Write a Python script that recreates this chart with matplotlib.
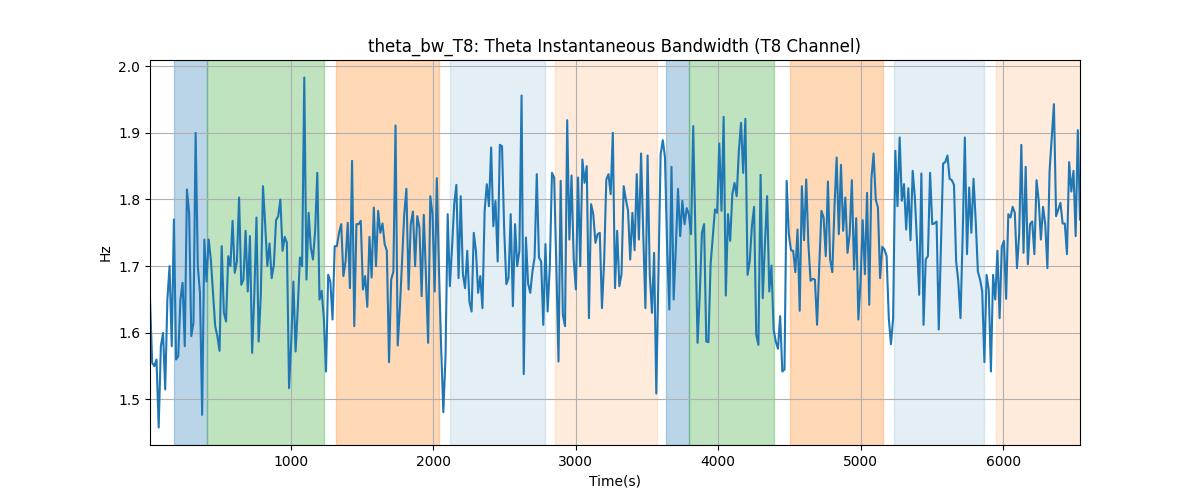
import numpy as np
import matplotlib
matplotlib.use("Agg")
import matplotlib.pyplot as plt

# Theta bandwidth values, in time order
bw = [
    1.65, 1.555, 1.55, 1.56, 1.458, 1.58, 1.60, 1.515, 1.65, 1.70, 1.58, 1.77,
    1.56, 1.565, 1.65, 1.675, 1.58, 1.815, 1.78, 1.595, 1.615, 1.90, 1.70, 1.66,
    1.477, 1.74, 1.677, 1.74, 1.71, 1.66, 1.61, 1.595, 1.573, 1.73, 1.63,
    1.617, 1.715, 1.70, 1.768, 1.69, 1.707, 1.803, 1.672, 1.68, 1.753, 1.662, 1.745,
    1.57, 1.657, 1.773, 1.587, 1.657, 1.82, 1.763, 1.70, 1.734, 1.682, 1.702, 1.769,
    1.775, 1.80, 1.723, 1.744, 1.735, 1.517, 1.587, 1.677, 1.572, 1.637, 1.713, 1.70, 1.983,
    1.68, 1.78, 1.728, 1.71, 1.753, 1.84, 1.65, 1.663, 1.622, 1.542, 1.687, 1.677,
    1.62, 1.73, 1.73, 1.75, 1.763, 1.685, 1.707, 1.765, 1.667, 1.858, 1.61, 1.763,
    1.763, 1.768, 1.665, 1.685, 1.639, 1.744, 1.683, 1.788, 1.70, 1.783, 1.75,
    1.764, 1.733, 1.723, 1.556, 1.68, 1.692, 1.911, 1.581, 1.637, 1.707, 1.778, 1.816,
    1.665, 1.763, 1.782, 1.70, 1.775, 1.758, 1.655, 1.777, 1.685, 1.585, 1.805, 1.778,
    1.662, 1.832, 1.692, 1.577, 1.481, 1.564, 1.778, 1.67, 1.728, 1.793, 1.822, 1.682,
    1.805, 1.688, 1.667, 1.723, 1.647, 1.632, 1.75, 1.723, 1.66, 1.685, 1.637, 1.783,
    1.823, 1.79, 1.878, 1.76, 1.798, 1.707, 1.882, 1.88, 1.755, 1.673, 1.682, 1.778,
    1.64, 1.763, 1.70, 1.723, 1.956, 1.538, 1.743, 1.674, 1.66, 1.692, 1.713, 1.838,
    1.713, 1.707, 1.612, 1.733, 1.632, 1.70, 1.84, 1.833, 1.70, 1.557, 1.828, 1.627,
    1.61, 1.919, 1.74, 1.836, 1.71, 1.665, 1.833, 1.70, 1.86, 1.825, 1.85, 1.622,
    1.793, 1.778, 1.735, 1.748, 1.75, 1.637, 1.707, 1.83, 1.838, 1.808, 1.90,
    1.667, 1.753, 1.67, 1.688, 1.82, 1.80, 1.783, 1.71, 1.78, 1.724, 1.838, 1.74,
    1.869, 1.748, 1.637, 1.866, 1.688, 1.63, 1.72, 1.509, 1.688, 1.868, 1.889, 1.863,
    1.728, 1.635, 1.849, 1.65, 1.728, 1.816, 1.745, 1.798, 1.763, 1.787, 1.778, 1.748,
    1.91, 1.748, 1.585, 1.657, 1.75, 1.763, 1.587, 1.586, 1.703, 1.743, 1.785, 1.78,
    1.884, 1.783, 1.924, 1.656, 1.778, 1.738, 1.808, 1.825, 1.805, 1.873, 1.915, 1.84,
    1.921, 1.687, 1.707, 1.76, 1.789, 1.597, 1.582, 1.837, 1.652, 1.733, 1.805, 1.662,
    1.701, 1.605, 1.587, 1.576, 1.625, 1.542, 1.545, 1.828, 1.748, 1.724, 1.723, 1.691,
    1.755, 1.633, 1.82, 1.739, 1.83, 1.733, 1.678, 1.681, 1.68, 1.612, 1.70, 1.783,
    1.773, 1.715, 1.827, 1.71, 1.691, 1.788, 1.863, 1.748, 1.852, 1.753, 1.803, 1.72,
    1.748, 1.829, 1.695, 1.772, 1.62, 1.677, 1.769, 1.688, 1.81, 1.642, 1.831, 1.869,
    1.80, 1.788, 1.682, 1.729, 1.725, 1.715, 1.622, 1.583, 1.622, 1.873, 1.79, 1.893,
    1.798, 1.823, 1.755, 1.817, 1.739, 1.843, 1.803, 1.735, 1.657, 1.839, 1.612, 1.71, 1.715,
    1.84, 1.763, 1.764, 1.767, 1.605, 1.73, 1.854, 1.856, 1.866, 1.831, 1.829, 1.822,
    1.707, 1.677, 1.622, 1.745, 1.893, 1.718, 1.818, 1.75, 1.831, 1.768, 1.692, 1.68,
    1.662, 1.556, 1.687, 1.665, 1.542, 1.687, 1.65, 1.723, 1.622, 1.729, 1.738, 1.651,
    1.778, 1.773, 1.789, 1.78, 1.697, 1.748, 1.882, 1.72, 1.849, 1.703, 1.763, 1.767,
    1.718, 1.829, 1.798, 1.74, 1.789, 1.763, 1.697, 1.843, 1.894, 1.943, 1.775, 1.785,
    1.795, 1.764, 1.764, 1.718, 1.856, 1.812, 1.843, 1.745, 1.904, 1.77,
]

t_start, t_end = 10, 6540

# Shaded segments: (start, end, colour, alpha)
seg_start = [179, 413, 1317, 2117, 2852, 3634, 3797, 4504, 5234, 5951]
seg_end = [413, 1232, 2038, 2782, 3568, 3797, 4390, 5155, 5864, 6560]
seg_color = ["tab:blue", "tab:green", "tab:orange", "tab:blue", "tab:orange",
             "tab:blue", "tab:green", "tab:orange", "tab:blue", "tab:orange"]
seg_alpha = [0.3, 0.3, 0.3, 0.12, 0.15, 0.3, 0.3, 0.3, 0.12, 0.15]

t = np.linspace(t_start, t_end, len(bw))

fig, ax = plt.subplots(figsize=(12, 5))

for s, e, c, a in zip(seg_start, seg_end, seg_color, seg_alpha):
    ax.axvspan(s, e, color=c, alpha=a)

ax.plot(t, bw, color="tab:blue")

ax.set_xlim(t_start, t_end)
ax.set_title("theta_bw_T8: Theta Instantaneous Bandwidth (T8 Channel)")
ax.set_xlabel("Time(s)")
ax.set_ylabel("Hz")
ax.grid(True)

plt.savefig("out.png", dpi=100)
plt.close()
